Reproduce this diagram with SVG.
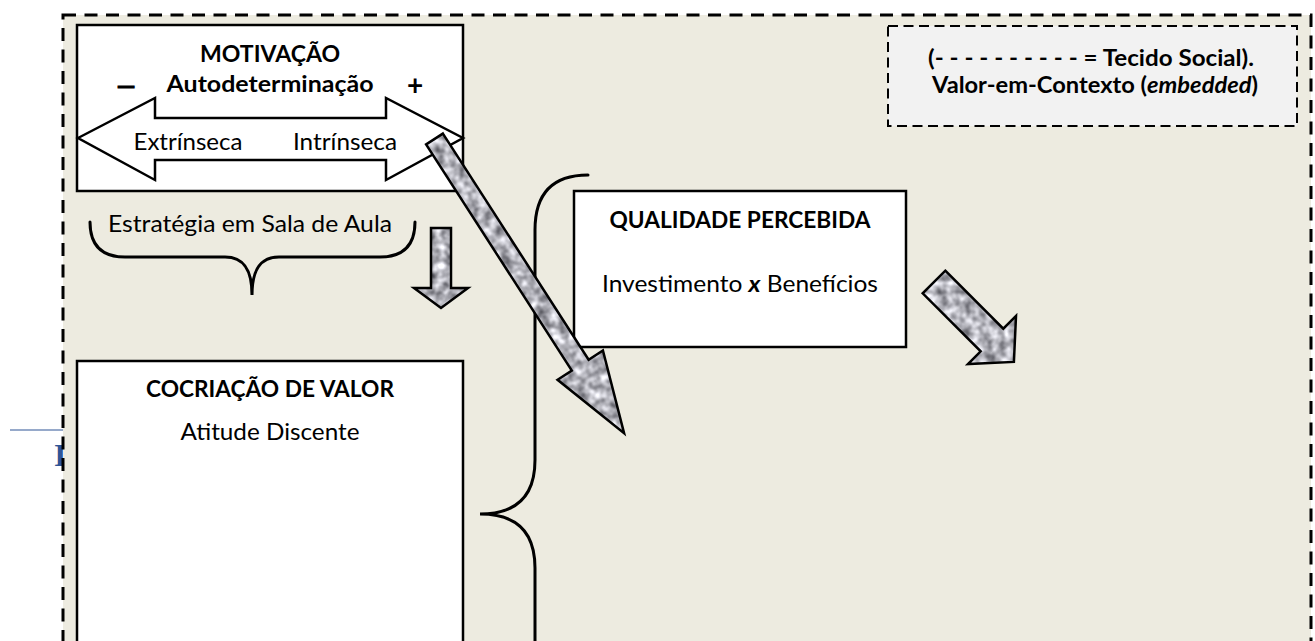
<svg xmlns="http://www.w3.org/2000/svg" xmlns:xlink="http://www.w3.org/1999/xlink" width="1315" height="641" viewBox="0 0 1315 641">
<style>
  .t { font-family: Lato, "Liberation Sans", sans-serif; font-size: 23px; fill: #000; }
  .b { font-weight: bold; }
  .box { fill: #fff; stroke: #000; stroke-width: 2.5; }
  .brace { fill: none; stroke: #000; stroke-width: 3; stroke-linecap: round; }
  .arrowline { fill: none; stroke: #000; stroke-width: 2.5; stroke-linejoin: miter; }
</style>
<defs>
  <filter id="tex" x="-5%" y="-5%" width="110%" height="110%" color-interpolation-filters="sRGB">
    <feTurbulence type="fractalNoise" baseFrequency="0.11" numOctaves="2" seed="11" result="n"/>
    <feColorMatrix in="n" type="matrix" values="1.0 0 0 0 0.2  1.0 0 0 0 0.2  1.0 0 0 0 0.23  0 0 0 0 1" result="g"/>
    <feComposite in="g" in2="SourceAlpha" operator="in"/>
  </filter>
  <path id="bigArrow" d="M0,-10 L269,-10 L269,-27 L350,0 L269,27 L269,10 L0,10 Z"/>
  <path id="smallArrow" d="M0,-16 L82,-16 L82,-34 L113,0 L82,34 L82,16 L0,16 Z"/>
  <path id="downArrow" d="M431,228 L451,228 L451,288 L468,288 L441,308 L414,288 L431,288 Z"/>
</defs>
<rect x="0" y="0" width="1315" height="641" fill="#fff"/>
<g id="margem">
  <line x1="10" y1="430" x2="63" y2="430" stroke="#2F5496" stroke-width="1.2"/>
  <text x="54" y="466" font-family="'Liberation Serif', serif" font-weight="bold" font-size="32" fill="#2F5496">I</text>
</g>
<g id="tecido-social">
  <rect x="63" y="15" width="1248" height="700" fill="#EDEBE0" stroke="#000" stroke-width="3" stroke-dasharray="13 8.5"/>
</g>
<g id="legenda">
  <rect x="888" y="26" width="409" height="100" fill="#F2F2F2" stroke="#000" stroke-width="2" stroke-dasharray="10 5.5"/>
  <text class="t b" x="1091" y="66" text-anchor="middle" textLength="326" lengthAdjust="spacingAndGlyphs">(- - - - - - - - - - = Tecido Social).</text>
  <text class="t b" x="1095" y="93" text-anchor="middle" textLength="326" lengthAdjust="spacingAndGlyphs">Valor-em-Contexto (<tspan font-style="italic">embedded</tspan>)</text>
</g>
<g id="motivacao">
  <rect class="box" x="77" y="25" width="386" height="166"/>
  <text class="t b" x="270" y="62" text-anchor="middle" textLength="140" lengthAdjust="spacingAndGlyphs">MOTIVAÇÃO</text>
  <text class="t b" x="270" y="92" text-anchor="middle" textLength="207" lengthAdjust="spacingAndGlyphs">Autodeterminação</text>
  <text class="t b" transform="translate(126,94) scale(1.7,1)" x="0" y="0" text-anchor="middle" stroke="#000" stroke-width="0.8">–</text>
  <text class="t b" x="415" y="95" text-anchor="middle" style="font-size:28px">+</text>
  <polygon class="arrowline" style="fill:#fff" points="78,138 155,98 155,118 386,118 386,98 463,138 386,180 386,160 155,160 155,180"/>
  <text class="t" x="188" y="150" text-anchor="middle" textLength="109" lengthAdjust="spacingAndGlyphs">Extrínseca</text>
  <text class="t" x="345" y="150" text-anchor="middle" textLength="104" lengthAdjust="spacingAndGlyphs">Intrínseca</text>
</g>
<g id="estrategia">
  <path class="brace" stroke-width="2.5" d="M90,222 Q90,257 125,257 L225,257 C244,257 252,270 252,295 C252,270 260,257 279,257 L380,257 Q415,257 415,222"/>
  <text class="t" x="250" y="232" text-anchor="middle" textLength="284" lengthAdjust="spacingAndGlyphs">Estratégia em Sala de Aula</text>
</g>
<g id="cocriacao">
  <rect class="box" x="77" y="361" width="386" height="360"/>
  <text class="t b" x="270" y="397" text-anchor="middle" textLength="248" lengthAdjust="spacingAndGlyphs">COCRIAÇÃO DE VALOR</text>
  <text class="t" x="270" y="440" text-anchor="middle" textLength="179" lengthAdjust="spacingAndGlyphs">Atitude Discente</text>
</g>
<g id="chave-grande">
  <path class="brace" d="M588,175 Q535,175 535,230 L535,460 Q535,514 480,514 Q535,514 535,568 L535,700"/>
</g>
<g id="qualidade">
  <rect class="box" x="574" y="191" width="332" height="156"/>
  <text class="t b" x="740" y="228" text-anchor="middle" textLength="261" lengthAdjust="spacingAndGlyphs">QUALIDADE PERCEBIDA</text>
  <text class="t" x="740" y="292" text-anchor="middle" textLength="276" lengthAdjust="spacingAndGlyphs">Investimento <tspan font-weight="bold" font-style="italic">x</tspan> Benefícios</text>
</g>
<g id="conectores">
  <g>
    <use xlink:href="#downArrow" filter="url(#tex)"/>
    <use xlink:href="#downArrow" class="arrowline"/>
  </g>
  <g transform="translate(434.5,139) rotate(57.2)">
    <use xlink:href="#bigArrow" filter="url(#tex)"/>
    <use xlink:href="#bigArrow" class="arrowline"/>
  </g>
  <g transform="translate(934,282) rotate(45)">
    <use xlink:href="#smallArrow" filter="url(#tex)"/>
    <use xlink:href="#smallArrow" class="arrowline"/>
  </g>
</g>
</svg>
